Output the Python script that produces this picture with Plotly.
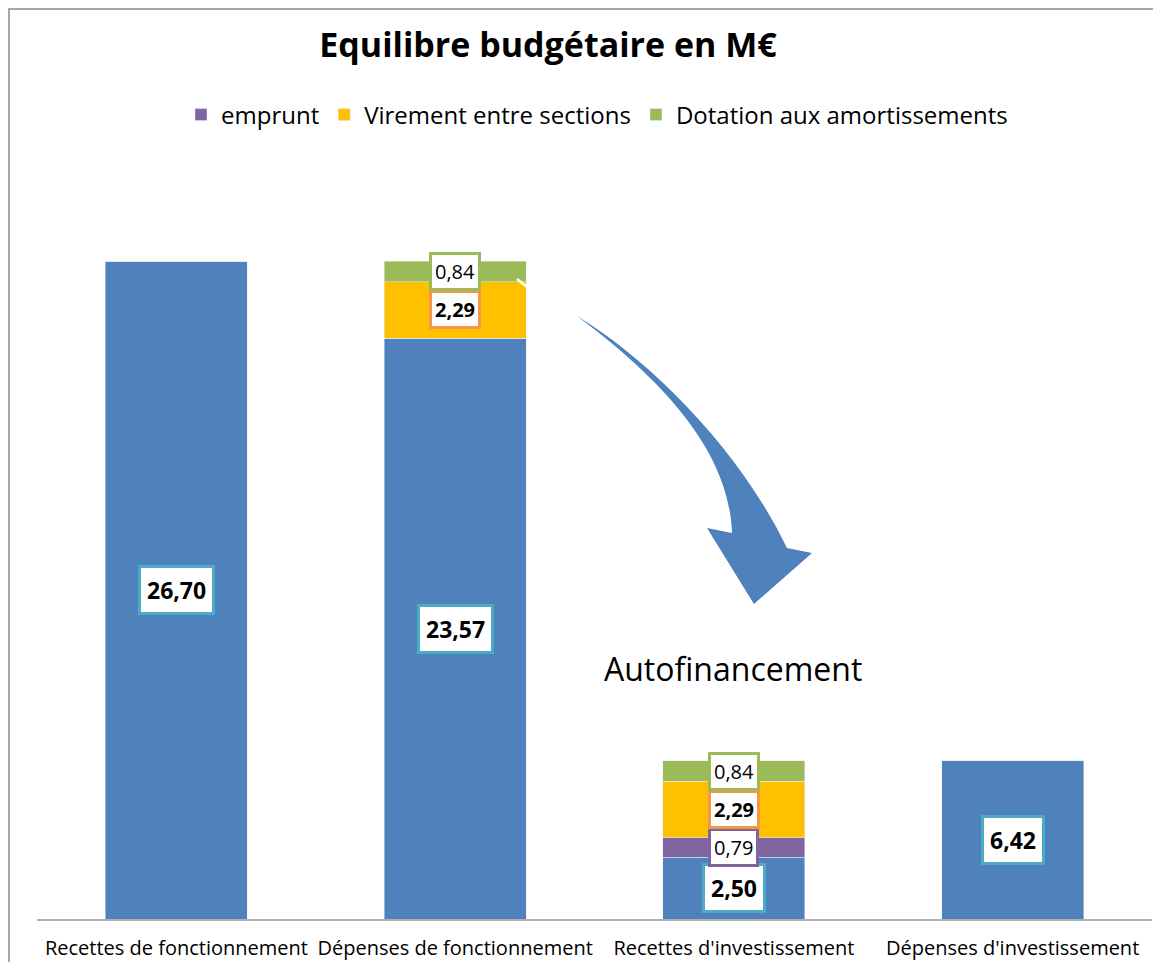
import plotly.graph_objects as go

categories = ["Recettes de fonctionnement", "Dépenses de fonctionnement",
              "Recettes d'investissement", "Dépenses d'investissement"]
base = [26.70, 23.57, 2.50, 6.42]
emprunt = [0, 0, 0.79, 0]
virement = [0, 2.29, 2.29, 0]
dotation = [0, 0.84, 0.84, 0]

FONT = "Open Sans"
BLUE, PURPLE, YELLOW, GREEN = "#4F81BD", "#8064A2", "#FFC000", "#9BBB59"

OFF = 8  # page body margin
W, H = 1161 - OFF, 962 - OFF
# plot area in screen pixels (reference)
SX0, SX1, STOP, SBOT = 37, 1152, 150, 919
L, R, T, B = SX0 - OFF, W - (SX1 - OFF), STOP - OFF, H - (SBOT - OFF)
YMAX = 26.70 * (SBOT - STOP) / (SBOT - 261)


def px(x):
    return (x - SX0) / (SX1 - SX0)


def py(y):
    return (SBOT - y) / (SBOT - STOP)


fig = go.Figure()
fig.add_bar(x=categories, y=base, marker_color=BLUE, showlegend=False, name="base")
fig.add_bar(x=categories, y=emprunt, marker_color=PURPLE, name="emprunt")
fig.add_bar(x=categories, y=virement, marker_color=YELLOW, name="Virement entre sections")
fig.add_bar(x=categories, y=dotation, marker_color=GREEN, name="Dotation aux amortissements")

# data labels
series = [(base, "#4BACC6", True), (emprunt, PURPLE, False),
          (virement, "#F79646", True), (dotation, GREEN, False)]
cum = [0.0] * len(categories)
for vals, bcol, bold in series:
    for i, v in enumerate(vals):
        if v > 0:
            mid = cum[i] + v / 2
            txt = f"{v:.2f}".replace(".", ",")
            big = bold and v > 2.4
            fig.add_annotation(
                x=categories[i], y=mid, xref="x", yref="y",
                text=f"<b>{txt}</b>" if bold else txt,
                showarrow=False, bgcolor="white", bordercolor=bcol,
                borderwidth=3, borderpad=6 if big else 3,
                font=dict(family=FONT, size=23 if big else 20, color="black"))
            cum[i] += v

# curved arrow (decoration)
pts_outer = [(577, 316), (650, 360), (740, 450), (787, 548)]
head = [(812, 553), (754, 604), (707, 528), (732, 533)]
pts_inner = [(730, 470), (690, 400), (577, 316)]


def P(p):
    return f"{px(p[0]):.4f},{py(p[1]):.4f}"


path = (f"M {P(pts_outer[0])} C {P(pts_outer[1])} {P(pts_outer[2])} {P(pts_outer[3])} "
        + " ".join(f"L {P(p)}" for p in head)
        + f" C {P(pts_inner[0])} {P(pts_inner[1])} {P(pts_inner[2])} Z")
fig.add_shape(type="path", path=path, xref="paper", yref="paper",
              fillcolor=BLUE, line=dict(width=0))

# small white tick near the top of the second bar
fig.add_shape(type="line", xref="paper", yref="paper",
              x0=px(517), y0=py(279), x1=px(527), y1=py(287),
              line=dict(color="white", width=2.5))

# outer frame
fig.add_shape(type="rect", xref="paper", yref="paper",
              x0=px(9), x1=px(1190), y0=py(1000), y1=py(9),
              line=dict(color="#8a8a8a", width=1.5), layer="below")

fig.add_annotation(text="Autofinancement", xref="paper", yref="paper",
                   x=px(733), y=py(668), xanchor="center", yanchor="middle",
                   showarrow=False, font=dict(family=FONT, size=32, color="black"))

fig.update_layout(
    width=W, height=H, barmode="stack", bargap=0.49,
    margin=dict(l=L, r=R, t=T, b=B, autoexpand=False),
    paper_bgcolor="white", plot_bgcolor="white",
    font=dict(family=FONT, color="black"),
    title=dict(text="<b>Equilibre budgétaire en M€</b>", x=px(548), xref="paper",
               xanchor="center", y=1 - (45 - OFF) / H, yref="container", yanchor="middle",
               font=dict(family=FONT, size=34, color="black")),
    legend=dict(orientation="h", x=px(597), xanchor="center", y=py(115),
                yanchor="middle", font=dict(family=FONT, size=24, color="black"),
                traceorder="normal"),
    xaxis=dict(showline=True, linecolor="#b0b0b0", linewidth=1.5, ticks="",
               tickangle=0,
               tickfont=dict(family=FONT, size=20, color="black"), showgrid=False,
               automargin=False, ticklabelstandoff=10),
    yaxis=dict(range=[0, YMAX], visible=False, showgrid=False),
)

fig.write_html("out.html")
